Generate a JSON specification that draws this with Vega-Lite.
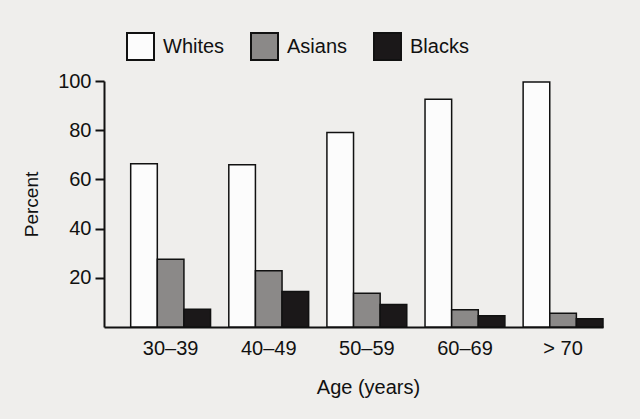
{
  "$schema": "https://vega.github.io/schema/vega-lite/v6.json",
  "autosize": "none",
  "width": 499,
  "height": 246,
  "padding": {"left": 104, "top": 81, "right": 37, "bottom": 92},
  "background": "#efeeec",
  "config": {
    "view": {"stroke": null},
    "font": "Liberation Sans",
    "axis": {"labelFont": "Liberation Sans", "titleFont": "Liberation Sans", "labelColor": "#111111", "titleColor": "#111111"},
    "legend": {"labelFont": "Liberation Sans", "labelColor": "#111111"}
  },
  "data": {
    "values": [
      {"age": "30–39", "group": "Whites", "value": 66.4},
      {"age": "30–39", "group": "Asians", "value": 27.5},
      {"age": "30–39", "group": "Blacks", "value": 7.2},
      {"age": "40–49", "group": "Whites", "value": 66.0},
      {"age": "40–49", "group": "Asians", "value": 22.9},
      {"age": "40–49", "group": "Blacks", "value": 14.4},
      {"age": "50–59", "group": "Whites", "value": 79.1},
      {"age": "50–59", "group": "Asians", "value": 13.7},
      {"age": "50–59", "group": "Blacks", "value": 9.1},
      {"age": "60–69", "group": "Whites", "value": 92.6},
      {"age": "60–69", "group": "Asians", "value": 7.0},
      {"age": "60–69", "group": "Blacks", "value": 4.6},
      {"age": "> 70", "group": "Whites", "value": 99.6},
      {"age": "> 70", "group": "Asians", "value": 5.6},
      {"age": "> 70", "group": "Blacks", "value": 3.4}
    ]
  },
  "mark": {"type": "bar", "stroke": "#111111", "strokeWidth": 1.5},
  "encoding": {
    "x": {
      "field": "age",
      "type": "nominal",
      "sort": ["30–39", "40–49", "50–59", "60–69", "> 70"],
      "scale": {"paddingInner": 0.186, "paddingOuter": 0.136, "align": 1},
      "axis": {
        "title": "Age (years)",
        "titleFontSize": 20,
        "titleFontWeight": "normal",
        "titlePadding": 19,
        "titleX": 264,
        "labelAngle": 0,
        "labelFontSize": 20,
        "labelPadding": 11,
        "ticks": false,
        "domainColor": "#111111",
        "domainWidth": 2
      }
    },
    "xOffset": {
      "field": "group",
      "type": "nominal",
      "sort": ["Whites", "Asians", "Blacks"],
      "scale": {"paddingInner": 0, "paddingOuter": 0}
    },
    "y": {
      "field": "value",
      "type": "quantitative",
      "scale": {"domain": [0, 100], "nice": false},
      "axis": {
        "title": "Percent",
        "titleFontSize": 19,
        "titleFontWeight": "normal",
        "titlePadding": 16,
        "values": [20, 40, 60, 80, 100],
        "grid": false,
        "labelFontSize": 20,
        "labelPadding": 4,
        "tickSize": 9,
        "tickWidth": 2,
        "tickColor": "#111111",
        "domainColor": "#111111",
        "domainWidth": 2
      }
    },
    "color": {
      "field": "group",
      "type": "nominal",
      "scale": {"domain": ["Whites", "Asians", "Blacks"], "range": ["#fcfcfc", "#8b8988", "#1b1819"]},
      "legend": {
        "title": null,
        "orient": "none",
        "direction": "horizontal",
        "legendX": 22,
        "legendY": -49,
        "symbolType": "square",
        "symbolSize": 729,
        "symbolStrokeColor": "#111111",
        "symbolStrokeWidth": 2,
        "symbolOpacity": 1,
        "labelFontSize": 20,
        "labelOffset": 8,
        "columnPadding": 22
      }
    }
  }
}
